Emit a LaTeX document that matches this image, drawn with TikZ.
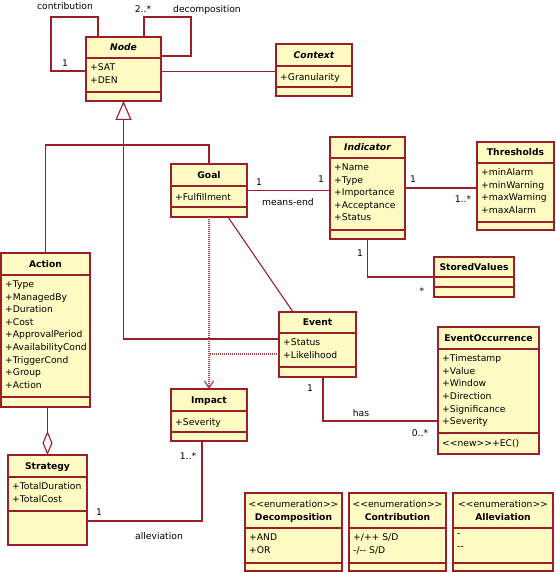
\documentclass[tikz,border=0pt]{standalone}
\usepackage{fontspec}
\usepackage{tikz}
\usetikzlibrary{arrows.meta, fit}
\newfontfamily\umlfont{DejaVu Sans}
\newcommand{\umltext}{\umlfont\fontsize{9.2}{12.6}\selectfont}
\definecolor{UMLred}{RGB}{155,30,40}
\definecolor{UMLfill}{RGB}{255,251,194}

\tikzset{
  classbox/.style={draw=UMLred, fill=UMLfill, line width=1.6pt, inner sep=0pt, outer sep=0pt},
  classname/.style={font=\umltext\bfseries, text height=6.7pt, text depth=0pt, inner sep=0pt},
  classattr/.style={font=\umltext, anchor=north west, align=left, inner sep=0pt, execute at begin node=\strut},
  lbl/.style={font=\umltext, text height=6.7pt, text depth=0pt, inner sep=0pt},
  assoc/.style={draw=UMLred, line width=1.1pt},
  gen/.style={assoc, -{Triangle[open, length=19pt, width=16pt]}},
  dep/.style={draw=UMLred!85, line width=1.2pt, dash pattern=on 1pt off 1pt},
  aggr/.style={assoc, -{Diamond[open, length=24pt, width=10pt]}},
}

% name, left, top, right, header bottom, attributes bottom, bottom, title, attributes
\newcommand{\umlclass}[9]{%
  \node[classbox, fit={(#2,#3) (#4,#7)}] (#1) {};
  \draw[classbox] (#2,#5) -- (#4,#5) (#2,#6) -- (#4,#6);
  \node[classname] (#1-name) at ({(#2+#4)/2},{(#3+#5)/2}) {#8};
  \node[classattr] (#1-attr) at (#2+4,#5+5.5) {#9};
}
% name, left, right, title, literals
\newcommand{\umlenum}[5]{%
  \node[classbox, fit={(#2,493) (#3,571)}] (#1) {};
  \draw[classbox] (#2,528) -- (#3,528) (#2,563) -- (#3,563);
  \node[lbl] (#1-stereo) at ({(#2+#3)/2},504) {<<enumeration>>};
  \node[classname] (#1-name) at ({(#2+#3)/2},517) {#4};
  \node[classattr] (#1-attr) at (#2+4,533.5) {#5};
}

\begin{document}
\begin{tikzpicture}[x=1pt, y=-1pt, font=\umltext]
  \useasboundingbox (0,0) rectangle (555,572);

  % classes
  \umlclass{Node}{86}{37}{161}{58}{92}{101}{\itshape Node}{+SAT\\+DEN}
  \umlclass{Context}{276}{44}{352}{66}{87}{96}{\itshape Context}{+Granularity}
  \umlclass{Goal}{171}{164}{247}{186}{207}{217}{Goal}{+Fulfillment}
  \umlclass{Indicator}{330}{137}{405}{158}{230}{239}{\itshape Indicator}%
    {+Name\\+Type\\+Importance\\+Acceptance\\+Status}
  \umlclass{Thresholds}{477}{142}{554}{163}{222}{230}{Thresholds}%
    {+minAlarm\\+minWarning\\+maxWarning\\+maxAlarm}
  \umlclass{StoredValues}{434}{257}{514}{277}{287}{297}{StoredValues}{}
  \umlclass{Action}{1}{253}{90}{275}{397}{407}{Action}%
    {+Type\\+ManagedBy\\+Duration\\+Cost\\+ApprovalPeriod\\+AvailabilityCond\\+TriggerCond\\+Group\\+Action}
  \umlclass{Event}{279}{312}{356}{333}{367}{377}{Event}{+Status\\+Likelihood}
  \umlclass{EventOccurrence}{438}{327}{539}{349}{433}{454}{EventOccurrence}%
    {+Timestamp\\+Value\\+Window\\+Direction\\+Significance\\+Severity}
  \node[classattr] (EventOccurrence-op) at (442,437.5) {<<new>>+EC()};
  \umlclass{Impact}{171}{389}{247}{411}{432}{441}{Impact}{+Severity}
  \umlclass{Strategy}{8}{455}{87}{477}{511}{545}{Strategy}{+TotalDuration\\+TotalCost}

  \umlenum{Decomposition}{245}{342}{Decomposition}{+AND\\+OR}
  \umlenum{Contribution}{349}{446}{Contribution}{+/++ S/D\\-/-- S/D}
  \umlenum{Alleviation}{453}{553}{Alleviation}{-\\--}

  % self associations
  \draw[assoc] ([yshift=-2pt]Node.west) -- ++(-35,0) -- ++(0,-54) -| ([xshift=12pt]Node.north west);
  \draw[assoc] ([xshift=-17pt]Node.north east) -- ++(0,-20) -- ++(47,0) |- ([yshift=-19pt]Node.north east);
  \node[lbl] (contrib) at (65,6) {contribution};
  \node[lbl] (contrib1) at (65,63) {1};
  \node[lbl] (decomp) at (207,9) {decomposition};
  \node[lbl] (decompn) at (143,9) {2..*};

  \coordinate (nc) at ([yshift=-2.5pt]Node.east);
  \draw[assoc] (nc) -- (nc -| Context.west);

  % generalization
  \coordinate (ev) at ([yshift=5.5pt]Event.west);
  \draw[gen] (ev) -| (Node.south);
  \draw[assoc] (Action.north) -- ++(0,-108) -| (Goal.north);

  % associations
  \draw[assoc] (Goal.east) -- (Goal.east -| Indicator.west);
  \node[lbl] (me1) at (259,182) {1};
  \node[lbl] (me2) at (321,179) {1};
  \node[lbl] (me) at (288,202) {means-end};

  \draw[assoc] (Indicator.east) -- (Indicator.east -| Thresholds.west);
  \node[lbl] (th1) at (413,179) {1};
  \node[lbl] (thn) at (463,199) {1..*};

  \draw[assoc] (Indicator.south) |- (StoredValues.west);
  \node[lbl] (sv1) at (360,253) {1};
  \node[lbl] (svn) at (422,291) {*};

  \draw[assoc] ([xshift=-19pt]Goal.south east) -- ([xshift=14pt]Event.north west);

  \draw[dep, -{Straight Barb[length=7pt, width=9pt]}] (Goal.south) -- (Impact.north);
  \coordinate (ed) at ([yshift=-9.5pt]Event.west);
  \draw[dep] (ed) -- (ed -| Impact.north);

  \draw[assoc] ([xshift=5.5pt]Event.south) |- ([yshift=-30.5pt]EventOccurrence.west);
  \node[lbl] (has1) at (310,388) {1};
  \node[lbl] (has) at (361,413) {has};
  \node[lbl] (hasn) at (420,433) {0..*};

  \draw[aggr] (Action.south -| Strategy.north) -- (Strategy.north);

  \draw[assoc] ([xshift=-7pt]Impact.south) |- ([yshift=-21pt]Strategy.east);
  \node[lbl] (alln) at (188,456) {1..*};
  \node[lbl] (all1) at (99,512) {1};
  \node[lbl] (all) at (159,536) {alleviation};
\end{tikzpicture}
\end{document}
